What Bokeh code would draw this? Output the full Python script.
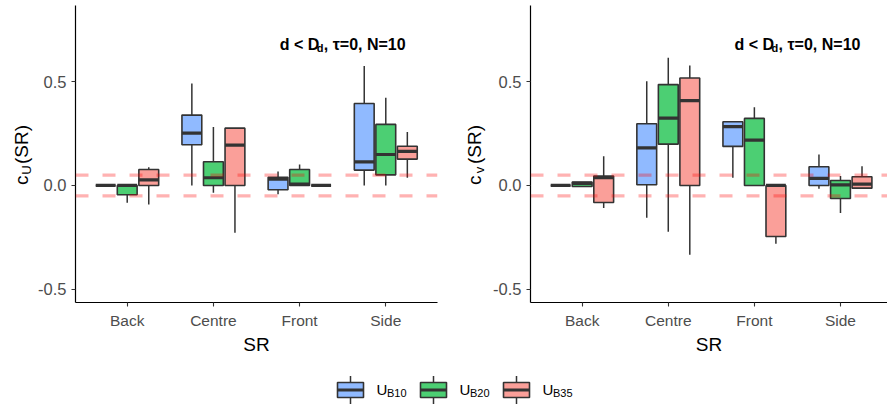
import math
from bokeh.plotting import figure
from bokeh.models import Range1d, FixedTicker, NumeralTickFormatter, Span, Label
from bokeh.core.properties import value
from bokeh.layouts import row, column
from bokeh.embed import file_html
from bokeh.resources import INLINE

# ---------------- data ----------------
categories = ["Back", "Centre", "Front", "Side"]
groups = ["B10", "B20", "B35"]
colors = ["#619CFF", "#00BA38", "#F8766D"]
y_ticks = [-0.5, 0.0, 0.5]
threshold = 0.05

# panel c_U(SR): five-number summaries per group, one value per category
cu_B10_lower = [0.0, 0.0, -0.043, 0.0]
cu_B10_q1 = [0.0, 0.196, -0.021, 0.074]
cu_B10_med = [0.0, 0.252, 0.030, 0.114]
cu_B10_q3 = [0.0, 0.339, 0.039, 0.395]
cu_B10_upper = [0.0, 0.491, 0.067, 0.575]

cu_B20_lower = [-0.083, -0.035, 0.0, 0.0]
cu_B20_q1 = [-0.045, 0.0, 0.0, 0.051]
cu_B20_med = [0.0, 0.037, 0.007, 0.149]
cu_B20_q3 = [0.0, 0.114, 0.077, 0.294]
cu_B20_upper = [0.0, 0.281, 0.101, 0.422]

cu_B35_lower = [-0.092, -0.228, 0.0, 0.037]
cu_B35_q1 = [0.0, 0.0, 0.0, 0.127]
cu_B35_med = [0.027, 0.194, 0.0, 0.164]
cu_B35_q3 = [0.077, 0.276, 0.0, 0.189]
cu_B35_upper = [0.088, 0.276, 0.0, 0.257]

# panel c_v(SR)
cv_B10_lower = [0.0, -0.156, 0.037, -0.016]
cv_B10_q1 = [0.0, 0.003, 0.188, 0.0]
cv_B10_med = [0.0, 0.181, 0.283, 0.034]
cv_B10_q3 = [0.0, 0.297, 0.307, 0.090]
cv_B10_upper = [0.0, 0.502, 0.307, 0.149]

cv_B20_lower = [-0.005, -0.223, 0.0, -0.133]
cv_B20_q1 = [-0.005, 0.199, 0.0, -0.063]
cv_B20_med = [0.010, 0.324, 0.218, 0.003]
cv_B20_q3 = [0.016, 0.486, 0.323, 0.024]
cv_B20_upper = [0.016, 0.615, 0.377, 0.045]

cv_B35_lower = [-0.109, -0.334, -0.281, -0.013]
cv_B35_q1 = [-0.082, 0.0, -0.246, -0.013]
cv_B35_med = [0.037, 0.409, 0.0, 0.006]
cv_B35_q3 = [0.045, 0.518, 0.0, 0.042]
cv_B35_upper = [0.141, 0.578, 0.0, 0.093]

cu_stats = {
    "B10": (cu_B10_lower, cu_B10_q1, cu_B10_med, cu_B10_q3, cu_B10_upper),
    "B20": (cu_B20_lower, cu_B20_q1, cu_B20_med, cu_B20_q3, cu_B20_upper),
    "B35": (cu_B35_lower, cu_B35_q1, cu_B35_med, cu_B35_q3, cu_B35_upper),
}
cv_stats = {
    "B10": (cv_B10_lower, cv_B10_q1, cv_B10_med, cv_B10_q3, cv_B10_upper),
    "B20": (cv_B20_lower, cv_B20_q1, cv_B20_med, cv_B20_q3, cv_B20_upper),
    "B35": (cv_B35_lower, cv_B35_q1, cv_B35_med, cv_B35_q3, cv_B35_upper),
}

# ---------------- style ----------------
FONT = "Liberation Sans"
DARK = "#333333"
TICK_COL = "#4D4D4D"
DODGE = 0.25
BOX_W = 0.23
Y_RANGE = (-0.564, 0.867)
H = 360
TOP, BOTTOM = 5, 58          # panel borders (frame spans screen y 5..302)


def blank_figure(width, height):
    f = figure(width=width, height=height, x_range=Range1d(0, width),
               y_range=Range1d(height, 0), output_backend="svg",
               toolbar_location=None, min_border=0,
               x_axis_location=None, y_axis_location=None)
    f.outline_line_color = None
    f.xgrid.visible = False
    f.ygrid.visible = False
    f.title.visible = False
    return f


def ylabel_figure(width, sub, mid_x):
    # frame aligned with the panels: data y = H - screen y
    f = figure(width=width, height=H, x_range=Range1d(0, width),
               y_range=Range1d(BOTTOM, H - TOP), output_backend="svg",
               toolbar_location=None, min_border_left=0, min_border_right=0,
               min_border_top=TOP, min_border_bottom=BOTTOM,
               x_axis_location=None, y_axis_location=None)
    f.outline_line_color = None
    f.xgrid.visible = False
    f.ygrid.visible = False
    f.title.visible = False
    kw = dict(angle=math.pi / 2, text_align="center", text_baseline="middle",
              text_font=value(FONT), text_color="black")
    f.text(x=[mid_x], y=[H - 179.8], text=["c"], text_font_size=value("19px"), **kw)
    f.text(x=[mid_x + 5.0], y=[H - 169.5], text=[sub], text_font_size=value("13px"), **kw)
    f.text(x=[mid_x], y=[H - 144.0], text=["(SR)"], text_font_size=value("19px"), **kw)
    return f


def make_panel(stats, width, border_left, border_right, x_end):
    p = figure(width=width, height=H, x_range=Range1d(0.4, x_end),
               y_range=Range1d(*Y_RANGE), output_backend="svg",
               toolbar_location=None, min_border_left=border_left,
               min_border_right=border_right, min_border_top=TOP,
               min_border_bottom=BOTTOM)
    p.title.visible = False
    p.outline_line_color = None
    p.xgrid.visible = False
    p.ygrid.visible = False

    for j, g in enumerate(groups):
        lower, q1, med, q3, upper = stats[g]
        xs = [i + 1 + (j - 1) * DODGE for i in range(len(categories))]
        p.segment(x0=xs, y0=q3, x1=xs, y1=upper, line_color=DARK, line_width=1.5)
        p.segment(x0=xs, y0=q1, x1=xs, y1=lower, line_color=DARK, line_width=1.5)
        p.vbar(x=xs, width=BOX_W, bottom=q1, top=q3, fill_color=colors[j],
               fill_alpha=0.7, line_color=DARK, line_width=1.6)
        p.segment(x0=[x - BOX_W / 2 for x in xs], x1=[x + BOX_W / 2 for x in xs],
                  y0=med, y1=med, line_color=DARK, line_width=3.2, line_cap="butt")

    for loc in (threshold, -threshold):
        p.add_layout(Span(location=loc, dimension="width", line_color="red",
                          line_alpha=0.3, line_width=3.3, line_dash="13 14"))

    p.xaxis.ticker = FixedTicker(ticks=list(range(1, len(categories) + 1)))
    p.xaxis.major_label_overrides = {i + 1: c for i, c in enumerate(categories)}
    p.yaxis.ticker = FixedTicker(ticks=y_ticks)
    p.yaxis.formatter = NumeralTickFormatter(format="0.0")
    for ax in (p.xaxis[0], p.yaxis[0]):
        ax.axis_line_color = "black"
        ax.axis_line_width = 1.2
        ax.major_tick_line_color = DARK
        ax.major_tick_line_width = 1.1
        ax.major_tick_out = 4
        ax.major_tick_in = 0
        ax.minor_tick_line_color = None
        ax.major_label_text_font = FONT
        ax.major_label_text_font_size = "15.5px"
        ax.major_label_text_color = TICK_COL
        ax.major_label_standoff = 5
    p.yaxis.major_label_text_font_size = "16.5px"
    p.xaxis.axis_label = "SR"
    p.xaxis.axis_label_text_font = FONT
    p.xaxis.axis_label_text_font_size = "19px"
    p.xaxis.axis_label_text_font_style = "normal"
    p.xaxis.axis_label_text_color = "black"
    p.xaxis.axis_label_standoff = 2

    # annotation  d < D_d, tau=0, N=10
    ann = dict(x=2.77, y=0.681, text_align="left", text_baseline="alphabetic",
               text_font=FONT, text_font_style="bold", text_color="black")
    pieces = [("d < D", 0, 0, "16px"), ("d", 37, -4, "11px"),
              (", \u03c4=0, N=10", 44, 0, "16px")]
    for txt, dx, dy, fs in pieces:
        p.add_layout(Label(text=txt, text_font_size=fs, x_offset=dx, y_offset=dy, **ann))
    return p


yl1 = ylabel_figure(34, "U", 20.9)
p1 = make_panel(cu_stats, 409, 41, 6, 4.6)
yl2 = ylabel_figure(47, "v", 31.4)
p2 = make_panel(cv_stats, 397, 39, 0, 4.546)

# ---------------- legend ----------------
leg = blank_figure(887, 48)
KEY_X0, KEY_STEP, KEY_W, KEY_H, KEY_Y = 350, 83, 26, 15, 29.5
for j, g in enumerate(groups):
    cx = KEY_X0 + j * KEY_STEP
    leg.segment(x0=[cx, cx], x1=[cx, cx], y0=[KEY_Y - 14, KEY_Y + KEY_H / 2],
                y1=[KEY_Y - KEY_H / 2, KEY_Y + 14], line_color=DARK, line_width=1.5)
    leg.rect(x=[cx], y=[KEY_Y], width=KEY_W, height=KEY_H, fill_color=colors[j],
             fill_alpha=0.7, line_color=DARK, line_width=1.6)
    leg.segment(x0=[cx - KEY_W / 2], x1=[cx + KEY_W / 2], y0=[KEY_Y], y1=[KEY_Y],
                line_color=DARK, line_width=3, line_cap="butt")
    lx = cx + 26
    leg.add_layout(Label(x=lx, y=KEY_Y - 1, text="U", text_font=FONT, text_font_size="15px",
                         text_color="black", text_baseline="alphabetic"))
    leg.add_layout(Label(x=lx + 10.5, y=KEY_Y + 2.5, text=g, text_font=FONT,
                         text_font_size="11px", text_color="black",
                         text_baseline="alphabetic"))

layout = column(row(yl1, p1, yl2, p2), leg)
open("out.html", "w").write(file_html(layout, INLINE))
